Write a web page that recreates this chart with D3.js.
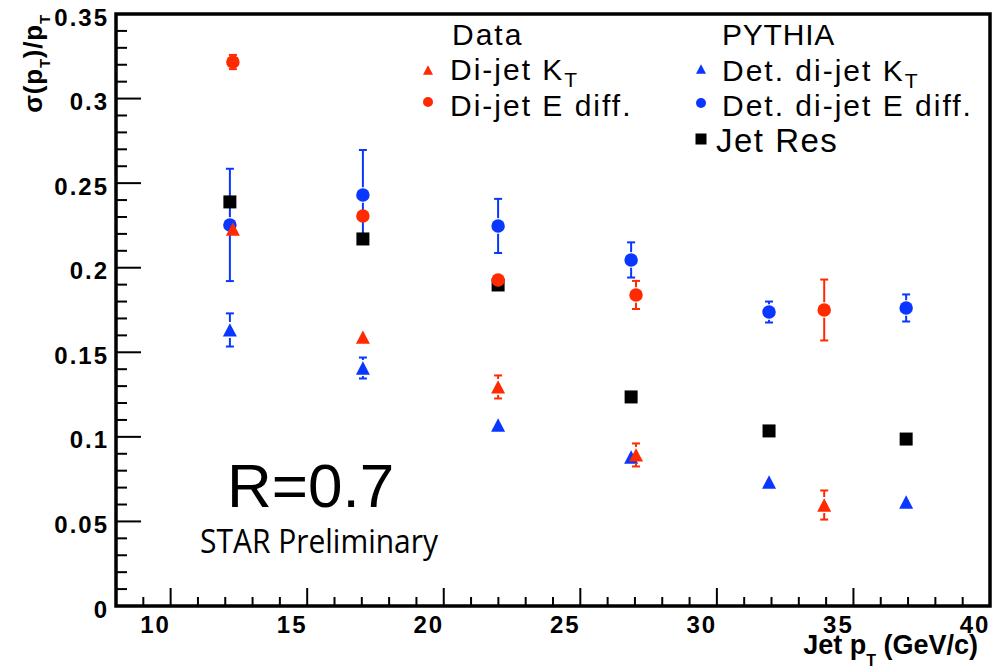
<!DOCTYPE html>
<html>
<head>
<meta charset="utf-8">
<script src="https://cdn.jsdelivr.net/npm/d3@7"></script>
<style>
  html, body { margin: 0; padding: 0; background: #fff; }
  svg { display: block; }
</style>
</head>
<body>
<script>
// ---- data ----
const pythiaX      = [12.17, 17.04, 21.99, 26.86, 31.91, 36.93];
const detKt        = [0.1632, 0.1407, 0.1070, 0.0881, 0.0733, 0.0615];
const detKtErr     = [0.0098, 0.0062, 0, 0, 0, 0];
const detEdiff     = [0.2253, 0.2430, 0.2247, 0.2046, 0.1738, 0.1762];
const detEdiffErr  = [0.0332, 0.0266, 0.0160, 0.0104, 0.0062, 0.0080];
const jetRes       = [0.2389, 0.2170, 0.1898, 0.1236, 0.1035, 0.0987];

const dataX        = [12.28, 17.04, 21.99, 27.04, 33.93];
const diKt         = [0.2229, 0.1590, 0.1295, 0.0893, 0.0597];
const diKtErr      = [0, 0, 0.0068, 0.0068, 0.0086];
const diEdiff      = [0.3216, 0.2306, 0.1927, 0.1839, 0.1750];
const diEdiffErr   = [0.0042, 0, 0, 0.0083, 0.0180];

const xMajorTicks  = [10, 15, 20, 25, 30, 35, 40];
const yMajorTicks  = [0, 0.05, 0.1, 0.15, 0.2, 0.25, 0.3, 0.35];
const xDomain      = [8, 40];
const yDomain      = [0, 0.35];

const RED = "#ff2a00", BLUE = "#0a37ff", BLACK = "#000000";

// ---- layout ----
const W = 1006, H = 668;
const L = 116, R = 990, T = 14, B = 606;

const svg = d3.select("body").append("svg").attr("width", W).attr("height", H);
svg.append("rect").attr("width", W).attr("height", H).attr("fill", "#fff");

const x = d3.scaleLinear().domain(xDomain).range([L, R]);
const y = d3.scaleLinear().domain(yDomain).range([B, T]);

const FONT = "'Liberation Sans', Arial, Helvetica, sans-serif";

// ---- ticks ----
const tickG = svg.append("g").attr("stroke", "#000").attr("stroke-width", 2);
const xMinor = d3.range(xDomain[0], xDomain[1] + 0.001, 1);
xMinor.forEach(v => {
  const major = xMajorTicks.includes(v);
  tickG.append("line").attr("x1", x(v)).attr("x2", x(v))
    .attr("y1", B).attr("y2", B - (major ? 18 : 9));
});
const yMinor = d3.range(0, 0.3501, 0.01).map(v => +v.toFixed(2));
yMinor.forEach(v => {
  const major = yMajorTicks.some(t => Math.abs(t - v) < 1e-6);
  tickG.append("line").attr("x1", L).attr("x2", L + (major ? 25 : 11))
    .attr("y1", y(v)).attr("y2", y(v));
});

// tick labels
const lblG = svg.append("g").attr("font-family", FONT).attr("font-weight", "bold")
  .attr("font-size", 24).attr("letter-spacing", 2).attr("fill", "#000");
yMajorTicks.forEach(v => {
  lblG.append("text").attr("x", 109).attr("y", y(v) + 11.5)
    .attr("text-anchor", "end").text(d3.format("")(+v.toFixed(2)));
});
xMajorTicks.forEach(v => {
  lblG.append("text").attr("x", x(v) - 15).attr("y", 633)
    .attr("text-anchor", "middle").text(v);
});

// frame
svg.append("rect").attr("x", L).attr("y", T).attr("width", R - L).attr("height", B - T)
  .attr("fill", "none").attr("stroke", "#000").attr("stroke-width", 3.5);

// axis titles
const xt = svg.append("text").attr("x", 978).attr("y", 654).attr("text-anchor", "end")
  .attr("font-family", FONT).attr("font-weight", "bold").attr("font-size", 27);
xt.append("tspan").text("Jet p");
xt.append("tspan").attr("dy", 12).attr("font-size", 16).text("T");
xt.append("tspan").attr("dy", -12).text(" (GeV/c)");

const yt = svg.append("text").attr("transform", "translate(42,14) rotate(-90)")
  .attr("text-anchor", "end")
  .attr("font-family", FONT).attr("font-weight", "bold").attr("font-size", 26)
  .attr("letter-spacing", 0.8);
yt.append("tspan").text("σ(p");
yt.append("tspan").attr("dy", 8).attr("font-size", 15).text("T");
yt.append("tspan").attr("dy", -8).text(")/p");
yt.append("tspan").attr("dy", 8).attr("font-size", 15).text("T");

// ---- markers ----
const plot = svg.append("g");

function triPath(cx, cy, w, h) {
  return `M${cx - w / 2},${cy + h / 2}L${cx + w / 2},${cy + h / 2}L${cx},${cy - h / 2}Z`;
}
function drawMarker(g, shape, cx, cy, color, s) {
  if (shape === "circle") {
    g.append("circle").attr("cx", cx).attr("cy", cy).attr("r", s / 2).attr("fill", color);
  } else if (shape === "square") {
    g.append("rect").attr("x", cx - s / 2).attr("y", cy - s / 2)
      .attr("width", s).attr("height", s).attr("fill", color);
  } else {
    g.append("path").attr("d", triPath(cx, cy, s, s * 0.95)).attr("fill", color);
  }
}
function drawSeries(xs, ys, errs, shape, color, size) {
  const g = plot.append("g");
  xs.forEach((xv, i) => {
    const cx = x(xv), cy = y(ys[i]);
    const e = errs ? errs[i] : 0;
    if (e > 0) {
      const yTop = y(ys[i] + e), yBot = y(ys[i] - e);
      const half = size / 2 + 1;
      const eg = g.append("g").attr("stroke", color).attr("stroke-width", 2);
      if (cy - half > yTop) {
        eg.append("line").attr("x1", cx).attr("x2", cx).attr("y1", yTop).attr("y2", cy - half);
      }
      if (yBot > cy + half) {
        eg.append("line").attr("x1", cx).attr("x2", cx).attr("y1", cy + half).attr("y2", yBot);
      }
      eg.append("line").attr("x1", cx - 4).attr("x2", cx + 4).attr("y1", yTop).attr("y2", yTop);
      eg.append("line").attr("x1", cx - 4).attr("x2", cx + 4).attr("y1", yBot).attr("y2", yBot);
    }
    drawMarker(g, shape, cx, cy, color, size);
  });
}

drawSeries(pythiaX, detKt, detKtErr, "triangle", BLUE, 14);
drawSeries(pythiaX, detEdiff, detEdiffErr, "circle", BLUE, 13.5);
drawSeries(pythiaX, jetRes, null, "square", BLACK, 13);
drawSeries(dataX, diKt, diKtErr, "triangle", RED, 14);
drawSeries(dataX, diEdiff, diEdiffErr, "circle", RED, 13.5);

// ---- legend ----
const leg = svg.append("g").attr("font-family", FONT).attr("font-size", 30)
  .attr("letter-spacing", 2).attr("fill", "#000");
leg.append("text").attr("x", 452).attr("y", 45).text("Data");
leg.append("text").attr("x", 722).attr("y", 45).attr("letter-spacing", 0.8).text("PYTHIA");

function legText(xp, yp, main, sub) {
  const t = leg.append("text").attr("x", xp).attr("y", yp);
  t.append("tspan").text(main);
  if (sub) t.append("tspan").attr("dy", 7).attr("font-size", 21).text(sub);
}
legText(450, 80, "Di-jet K", "T");
legText(450, 116, "Di-jet E diff.");
legText(722, 81, "Det. di-jet K", "T");
legText(722, 116, "Det. di-jet E diff.");
leg.append("text").attr("x", 716).attr("y", 152).attr("font-size", 33)
  .attr("letter-spacing", 1.5).text("Jet Res");

drawMarker(leg, "triangle", 428, 70, RED, 10);
drawMarker(leg, "circle", 428, 102, RED, 10);
drawMarker(leg, "triangle", 701, 69, BLUE, 10);
drawMarker(leg, "circle", 701, 103, BLUE, 10);
drawMarker(leg, "square", 701, 139, BLACK, 11);

// ---- annotations ----
svg.append("text").attr("x", 227).attr("y", 507)
  .attr("font-family", FONT).attr("font-size", 62).text("R=0.7");
svg.append("text").attr("x", 200).attr("y", 553)
  .attr("font-family", "'Open Sans', 'Noto Sans', sans-serif").attr("font-size", 33)
  .attr("textLength", 238).attr("lengthAdjust", "spacingAndGlyphs")
  .text("STAR Preliminary");
</script>
</body>
</html>
